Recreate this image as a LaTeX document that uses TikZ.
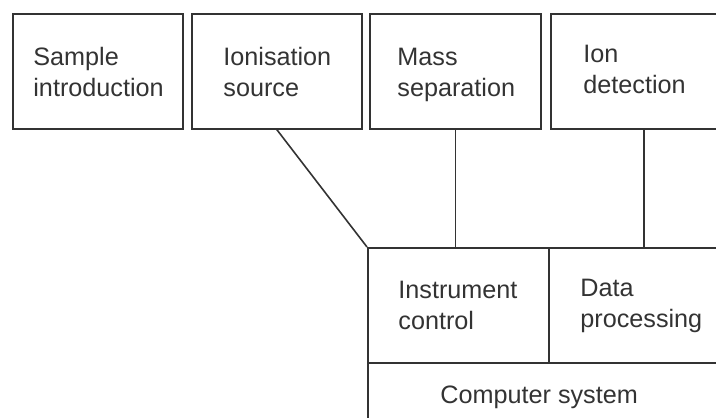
\documentclass[tikz,border=0pt]{standalone}
\usepackage{fontspec}
\setmainfont{Liberation Sans}
\definecolor{ink}{gray}{0.2}
\begin{document}
\begin{tikzpicture}[x=0.5pt,y=-0.5pt,
  box/.style={draw=ink,line width=0.8pt,inner sep=0pt,anchor=north west},
  lbl/.style={anchor=base west,inner sep=0pt,align=left,
    font=\fontsize{12.6}{15.5}\selectfont,text=ink},
  conn/.style={draw=ink,line width=0.8pt}]
\useasboundingbox (0,0) rectangle (716,417);
\clip (0,0) rectangle (716,417);
% top boxes
\node[box,minimum width=85pt,minimum height=57.5pt] (b1) at (12,13) {};
\node[box,minimum width=85pt,minimum height=57.5pt] (b2) at (191,13) {};
\node[box,minimum width=85.5pt,minimum height=57.5pt] (b3) at (369,13) {};
\node[box,minimum width=93pt,minimum height=57.5pt] (b4) at (550,13) {};
% computer system
\node[box,minimum width=90.5pt,minimum height=57.5pt] (ic) at (367,247) {};
\node[box,minimum width=95pt,minimum height=57.5pt] (dp) at (548,247) {};
\node[box,minimum width=185.5pt,minimum height=40pt] (cs) at (367,362) {};
% labels (anchor = baseline of last line)
\node[lbl] (t1) at (33,97) {Sample\\introduction};
\node[lbl] (t2) at (223,97) {Ionisation\\source};
\node[lbl] (t3) at (397,97) {Mass\\separation};
\node[lbl] (t4) at (583,93) {Ion\\detection};
\node[lbl] (t5) at (398,329) {Instrument\\control};
\node[lbl] (t6) at (580,327) {Data\\processing};
\node[lbl] (t7) at (440,403) {Computer system};
% connectors
\draw[conn] (b2.south) -- (ic.north west);
\draw[conn] (b3.south) -- (b3.south |- ic.north);
\draw[conn] (b4.south) -- (b4.south |- ic.north);
\end{tikzpicture}
\end{document}
